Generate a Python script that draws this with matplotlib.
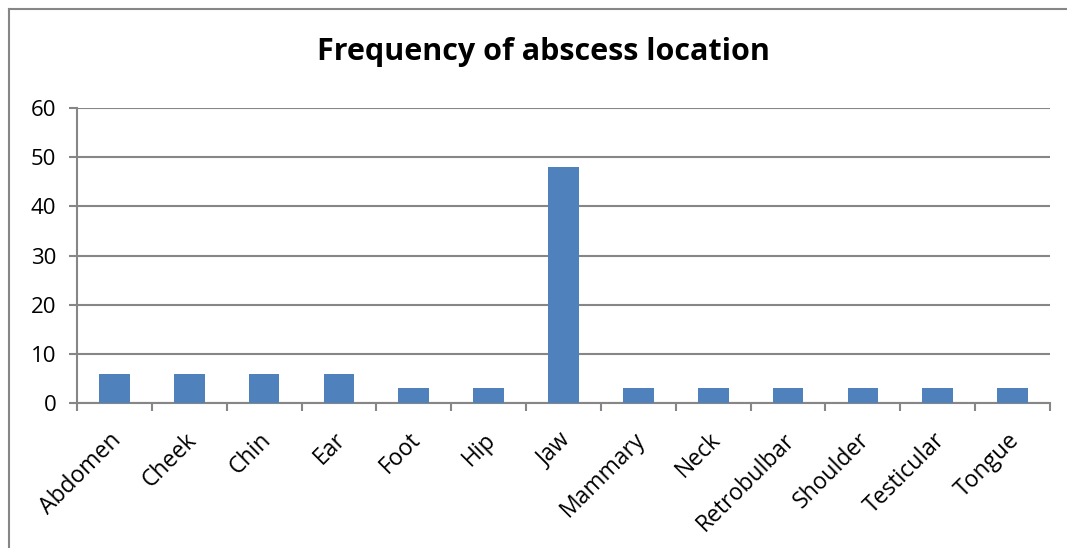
import matplotlib
matplotlib.use("Agg")
from matplotlib import pyplot as plt
from matplotlib.lines import Line2D
from matplotlib.ticker import FixedLocator
from matplotlib.transforms import ScaledTranslation

locations = ["Abdomen", "Cheek", "Chin", "Ear", "Foot", "Hip", "Jaw",
             "Mammary", "Neck", "Retrobulbar", "Shoulder", "Testicular", "Tongue"]
counts = [6, 6, 6, 6, 3, 3, 48, 3, 3, 3, 3, 3, 3]
y_ticks = [0, 10, 20, 30, 40, 50, 60]

plt.rcParams['font.family'] = ['Open Sans', 'DejaVu Sans']
grid_col = "#868686"

fig = plt.figure(figsize=(10.67, 5.48), dpi=100)
W, H = 1067, 548
# chart border: only the top and left edges are inside the picture
bx, by = 8.5 / W, 1 - 8.5 / H
fig.lines.append(Line2D([bx, 1.01], [by, by], transform=fig.transFigure, color=grid_col, linewidth=1.5))
fig.lines.append(Line2D([bx, bx], [-0.01, by], transform=fig.transFigure, color=grid_col, linewidth=1.5))

ax = fig.add_axes([77 / W, 1 - 403 / H, (1050 - 77) / W, (403 - 108) / H])
x = list(range(len(locations)))
ax.bar(x, counts, width=0.41, color="#4F81BD", zorder=3)

ax.set_xlim(-0.5, len(locations) - 0.5)
ax.set_ylim(0, 60)
ax.set_yticks(y_ticks)
ax.yaxis.grid(True, color=grid_col, linewidth=1.5, zorder=0)
ax.set_xticks(x)
ax.set_xticklabels(locations, rotation=45, ha="right", rotation_mode="anchor", fontsize=16.5)
ax.tick_params(axis="x", length=0, pad=18)
shift = ScaledTranslation(-5 / 100, 0, fig.dpi_scale_trans)
for lbl in ax.get_xticklabels():
    lbl.set_transform(lbl.get_transform() + shift)
ax.xaxis.set_minor_locator(FixedLocator([i - 0.5 for i in range(len(locations) + 1)]))
ax.tick_params(axis="x", which="minor", length=6, width=1.5, color=grid_col)
ax.tick_params(axis="y", length=6, width=1.5, color=grid_col, labelsize=16, pad=9)

for s in ["top", "right"]:
    ax.spines[s].set_visible(False)
for s in ["left", "bottom"]:
    ax.spines[s].set_color(grid_col)
    ax.spines[s].set_linewidth(1.5)

fig.text(543 / W, 1 - 52 / H, "Frequency of abscess location", ha="center", va="center",
         fontsize=22, fontweight="bold")

fig.savefig("out.png", dpi=100)
